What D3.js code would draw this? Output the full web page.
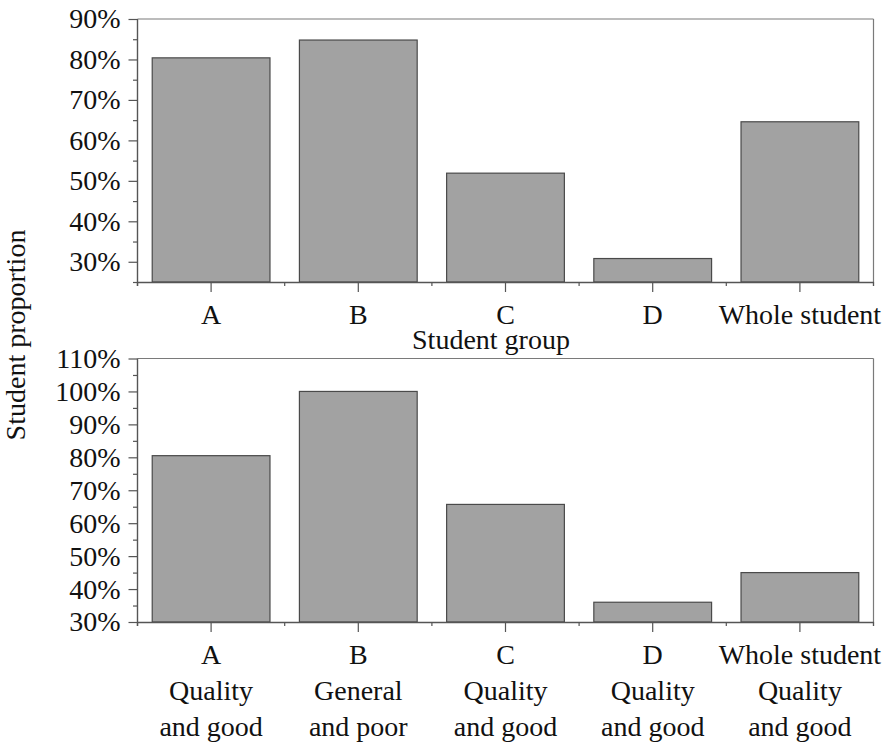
<!DOCTYPE html>
<html>
<head>
<meta charset="utf-8">
<script src="https://cdn.jsdelivr.net/npm/d3@7"></script>
<style>
  html, body { margin: 0; padding: 0; background: #fff; }
  svg { display: block; }
</style>
</head>
<body>
<svg id="chart" width="885" height="742"></svg>
<script>
// ---- Data ----
const categories = ["A", "B", "C", "D", "Whole student"];
const topValues = [80.4, 84.8, 51.9, 30.8, 64.6];
const bottomValues = [80.5, 100.0, 65.7, 36.0, 45.0];
const bottomSubLabels = [
  ["Quality", "and good"],
  ["General", "and poor"],
  ["Quality", "and good"],
  ["Quality", "and good"],
  ["Quality", "and good"]
];
const topTicks = [30, 40, 50, 60, 70, 80, 90];
const topMinorTicks = [25, 35, 45, 55, 65, 75, 85];
const bottomTicks = [30, 40, 50, 60, 70, 80, 90, 100, 110];
const bottomMinorTicks = [35, 45, 55, 65, 75, 85, 95, 105];
const xAxisTitle = "Student group";
const yAxisTitle = "Student proportion";

// ---- Layout ----
const svg = d3.select("#chart");
const left = 137.5, right = 873.5;
const FONT = 28;
const FAMILY = "'Liberation Serif', 'Times New Roman', 'DejaVu Serif', serif";
const axisColor = "#555";
const frameColor = "#7a7a7a";

const x = d3.scaleBand().domain(categories).range([left, right])
  .paddingInner(0.2).paddingOuter(0.1);

function styleText(sel) {
  sel.attr("font-family", FAMILY).style("font-family", FAMILY)
     .style("font-size", FONT + "px").attr("fill", "#111");
}

function panel(opts) {
  const { values, ticks, minor, yDomain, yTop, yBottom, labelMode } = opts;
  const y = d3.scaleLinear().domain(yDomain).range([yBottom, yTop]);
  const g = svg.append("g");

  // frame (top & right)
  g.append("line").attr("x1", left).attr("x2", right).attr("y1", yTop).attr("y2", yTop)
    .attr("stroke", frameColor).attr("stroke-width", 1.2);
  g.append("line").attr("x1", right).attr("x2", right).attr("y1", yTop).attr("y2", yBottom + 4)
    .attr("stroke", frameColor).attr("stroke-width", 1.2);

  // bars
  g.selectAll("rect.bar").data(values).join("rect")
    .attr("class", "bar")
    .attr("x", (d, i) => x(categories[i]))
    .attr("width", x.bandwidth())
    .attr("y", d => y(d))
    .attr("height", d => y(yDomain[0]) - y(d))
    .attr("fill", "#a2a2a2")
    .attr("stroke", "#4a4a4a")
    .attr("stroke-width", 1.2);

  // y axis major
  const yAxis = g.append("g").attr("transform", `translate(${left},0)`)
    .call(d3.axisLeft(y).tickValues(ticks).tickSize(9).tickPadding(8).tickFormat(d => d + "%"));
  yAxis.attr("font-family", FAMILY);
  yAxis.select(".domain").remove();
  yAxis.selectAll(".tick line").attr("stroke", axisColor).attr("stroke-width", 1.2);
  styleText(yAxis.selectAll(".tick text"));

  // y axis minor
  const yMinor = g.append("g").attr("transform", `translate(${left},0)`)
    .call(d3.axisLeft(y).tickValues(minor).tickSize(4.5).tickFormat(""));
  yMinor.select(".domain").remove();
  yMinor.selectAll(".tick line").attr("stroke", axisColor).attr("stroke-width", 1.2);

  // y axis line
  g.append("line").attr("x1", left).attr("x2", left).attr("y1", yTop).attr("y2", yBottom + 4)
    .attr("stroke", axisColor).attr("stroke-width", 1.4);

  // x axis major
  const xAxis = g.append("g").attr("transform", `translate(0,${yBottom})`)
    .call(d3.axisBottom(x).tickSize(10).tickSizeOuter(0).tickPadding(12));
  xAxis.attr("font-family", FAMILY);
  xAxis.select(".domain").attr("stroke", axisColor).attr("stroke-width", 1.4);
  xAxis.selectAll(".tick line").attr("stroke", axisColor).attr("stroke-width", 1.2);
  styleText(xAxis.selectAll(".tick text"));

  if (labelMode === "multi") {
    xAxis.selectAll(".tick text").each(function (d) {
      const t = d3.select(this);
      const idx = categories.indexOf(d);
      bottomSubLabels[idx].forEach(s => {
        t.append("tspan").attr("x", 0).attr("dy", "1.28em").text(s);
      });
    });
  }

  // x axis minor ticks at band boundaries
  const step = x.step();
  const bounds = categories.map(c => x(c) - step * x.paddingInner() / 2);
  bounds.push(right);
  g.append("g").selectAll("line").data(bounds).join("line")
    .attr("x1", d => d).attr("x2", d => d)
    .attr("y1", yBottom).attr("y2", yBottom + 4)
    .attr("stroke", axisColor).attr("stroke-width", 1.2);

  return y;
}

panel({ values: topValues, ticks: topTicks, minor: topMinorTicks, yDomain: [25, 90],
        yTop: 19, yBottom: 282, labelMode: "simple" });
panel({ values: bottomValues, ticks: bottomTicks, minor: bottomMinorTicks, yDomain: [30, 110],
        yTop: 358.5, yBottom: 622, labelMode: "multi" });

// axis titles
styleText(svg.append("text").attr("x", 491).attr("y", 349).attr("text-anchor", "middle")
  .text(xAxisTitle));
styleText(svg.append("text").attr("transform", "translate(25,335) rotate(-90)").attr("text-anchor", "middle")
  .text(yAxisTitle));
</script>
</body>
</html>
